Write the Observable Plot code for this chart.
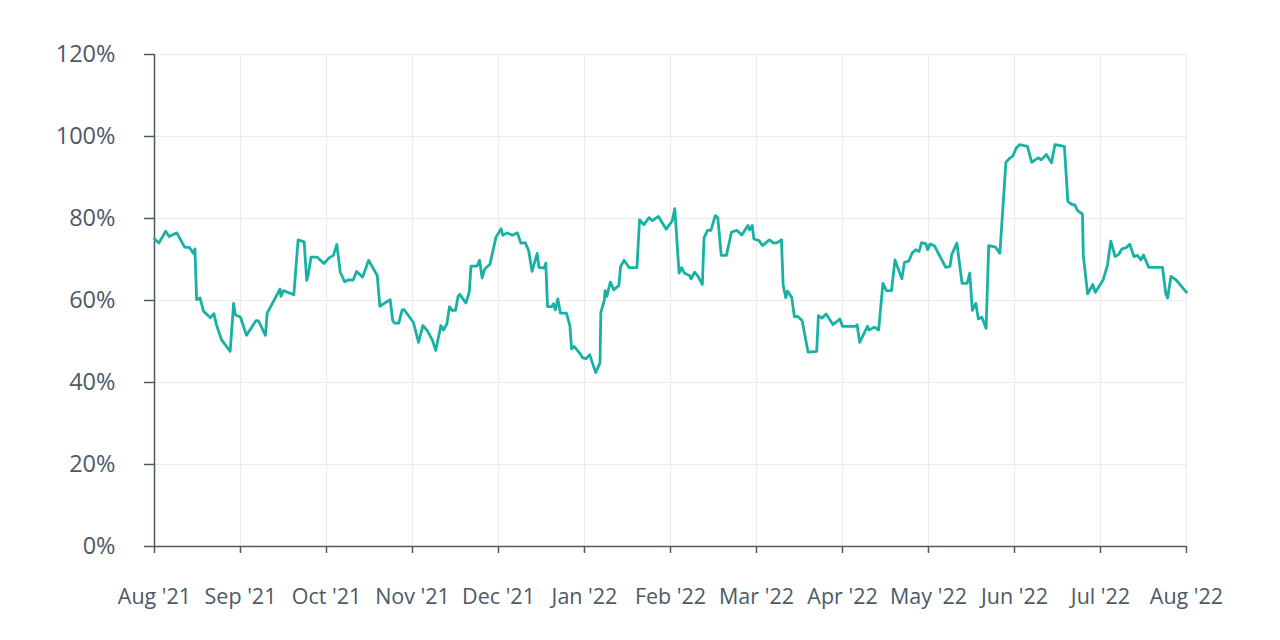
<!DOCTYPE html>
<html>
<head>
<meta charset="utf-8">
<script src="https://cdn.jsdelivr.net/npm/d3@7"></script>
<script src="https://cdn.jsdelivr.net/npm/@observablehq/plot@0.6"></script>
<style>
  html, body { margin: 0; padding: 0; background: #fff; }
  #chart { width: 1280px; height: 640px; }
  svg { font-family: "Open Sans", sans-serif; }
</style>
</head>
<body>
<div id="chart"></div>
<script>
// Month labels (evenly spaced ticks, 0 = Aug '21 ... 12 = Aug '22)
const monthLabels = ["Aug '21","Sep '21","Oct '21","Nov '21","Dec '21","Jan '22","Feb '22","Mar '22","Apr '22","May '22","Jun '22","Jul '22","Aug '22"];
const yTicks = [0, 20, 40, 60, 80, 100, 120];

// Time position in months since Aug '21
const t = [
  0.00,0.05,0.13,0.17,0.26,0.35,0.41,0.45,0.47,0.49,0.53,0.57,0.65,0.69,0.72,0.78,0.88,0.92,0.94,1.00,
  1.07,1.18,1.21,1.29,1.31,1.46,1.47,1.50,1.62,1.67,1.74,1.77,1.79,1.82,1.89,1.97,2.03,2.08,2.12,2.16,
  2.21,2.25,2.31,2.35,2.42,2.49,2.59,2.62,2.74,2.77,2.79,2.84,2.88,2.90,3.01,3.07,3.12,3.17,3.23,3.27,
  3.33,3.36,3.40,3.43,3.46,3.50,3.53,3.55,3.62,3.66,3.68,3.75,3.78,3.81,3.84,3.90,3.97,4.03,4.05,4.10,
  4.16,4.22,4.26,4.31,4.35,4.39,4.45,4.47,4.53,4.55,4.57,4.62,4.64,4.66,4.69,4.72,4.79,4.83,4.85,4.88,
  4.95,4.98,5.02,5.06,5.13,5.18,5.19,5.23,5.24,5.26,5.30,5.34,5.40,5.42,5.46,5.52,5.61,5.64,5.69,5.75,
  5.79,5.86,5.95,6.02,6.05,6.10,6.13,6.16,6.22,6.24,6.28,6.32,6.37,6.39,6.43,6.47,6.52,6.55,6.59,6.65,
  6.71,6.77,6.83,6.90,6.92,6.95,6.97,7.03,7.07,7.15,7.20,7.24,7.29,7.31,7.34,7.36,7.41,7.44,7.48,7.53,
  7.60,7.70,7.72,7.76,7.81,7.89,7.97,8.00,8.15,8.17,8.20,8.29,8.31,8.37,8.42,8.47,8.51,8.57,8.61,8.69,
  8.72,8.77,8.81,8.85,8.89,8.92,8.97,8.99,9.02,9.07,9.20,9.25,9.27,9.33,9.39,9.45,9.48,9.51,9.55,9.58,
  9.62,9.67,9.70,9.78,9.83,9.90,9.95,9.98,10.02,10.06,10.15,10.20,10.24,10.28,10.31,10.37,10.43,10.47,10.58,10.62,
  10.67,10.70,10.73,10.79,10.80,10.85,10.91,10.94,11.03,11.08,11.12,11.17,11.21,11.25,11.30,11.34,11.39,11.43,11.47,11.50,
  11.56,11.72,11.76,11.78,11.82,11.88,12.00
];
// Value in percent
const v = [
  75.0,74.0,76.9,75.6,76.5,73.0,72.9,71.5,72.6,60.2,60.6,57.4,55.8,56.8,54.1,50.4,47.6,59.3,56.5,55.9,
  51.5,55.1,55.0,51.5,56.9,62.8,61.0,62.4,61.4,74.8,74.3,64.9,66.5,70.6,70.6,69.0,70.4,71.0,73.7,66.9,
  64.6,65.0,65.0,67.1,65.7,69.8,66.1,58.6,60.2,55.1,54.5,54.5,57.7,57.8,54.7,49.8,53.9,52.7,50.4,47.8,
  53.9,52.8,54.3,58.5,57.6,57.6,61.0,61.5,59.4,62.0,68.4,68.4,69.8,65.5,67.7,68.8,75.4,77.5,75.9,76.5,
  75.9,76.5,74.0,74.1,72.2,67.1,71.5,68.1,67.9,69.1,58.5,58.5,59.2,57.7,60.4,56.9,56.9,53.9,48.2,48.8,
  47.0,46.0,45.8,46.8,42.4,44.8,57.1,60.0,62.4,61.0,64.5,62.6,63.7,68.3,69.8,68.0,68.0,79.7,78.5,80.2,
  79.5,80.5,77.4,79.4,82.4,66.7,68.0,66.7,66.1,65.3,66.9,65.9,63.9,75.3,77.1,77.1,80.7,80.2,71.0,71.0,
  76.7,77.1,76.0,78.3,77.2,78.3,75.0,74.6,73.4,74.8,74.0,74.1,74.8,63.7,60.7,62.3,60.7,56.1,56.1,55.1,
  47.4,47.6,56.3,55.7,56.7,54.1,55.5,53.7,53.7,54.1,49.8,53.7,52.8,53.5,52.8,64.2,62.4,62.4,69.9,65.3,
  69.3,69.6,71.6,72.4,72.0,74.1,73.8,72.4,73.8,73.3,68.1,68.3,71.2,74.0,64.2,64.2,66.7,57.6,59.3,55.5,
  55.9,53.2,73.4,73.0,71.5,93.7,94.8,95.2,97.2,98.0,97.6,93.7,94.3,94.8,94.3,95.6,93.6,98.0,97.6,84.2,
  83.4,83.4,82.0,81.1,71.0,61.6,63.9,62.0,65.0,68.5,74.5,70.7,71.2,72.6,72.9,73.7,70.7,71.0,69.9,71.1,
  68.1,68.1,61.6,60.6,65.9,65.0,62.0
];

const rows = t.map((x, i) => ({ t: x, v: v[i] }));
const monthTicks = monthLabels.map((_, i) => i);

const axisColor = "#4b5a66";
const gridColor = "#ebebeb";

const chart = Plot.plot({
  width: 1280,
  height: 640,
  marginLeft: 154,
  marginRight: 94,
  marginTop: 54,
  marginBottom: 94,
  style: { fontFamily: "'Open Sans', sans-serif", background: "#fff" },
  x: { type: "linear", domain: [0, 12] },
  y: { domain: [0, 120] },
  marks: [
    Plot.gridX(monthTicks, { stroke: gridColor, strokeOpacity: 1, strokeWidth: 1 }),
    Plot.gridY(yTicks, { stroke: gridColor, strokeOpacity: 1, strokeWidth: 1 }),
    Plot.axisY(yTicks, {
      tickFormat: d => d + "%",
      tickSize: 10,
      tickPadding: 29,
      fontSize: 23.5,
      stroke: axisColor,
      fill: axisColor,
      strokeWidth: 1.5,
      label: null
    }),
    Plot.axisX(monthTicks, {
      tickFormat: i => monthLabels[i],
      tickSize: 7,
      tickPadding: 35,
      fontSize: 21.5,
      stroke: axisColor,
      fill: axisColor,
      strokeWidth: 1.5,
      label: null
    }),
    Plot.ruleX([0], { stroke: axisColor, strokeWidth: 1.5 }),
    Plot.ruleY([0], { stroke: axisColor, strokeWidth: 1.5 }),
    Plot.line(rows, { x: "t", y: "v", stroke: "#17b2a4", strokeWidth: 2.8, curve: "linear" })
  ]
});

document.getElementById("chart").appendChild(chart);
</script>
</body>
</html>
